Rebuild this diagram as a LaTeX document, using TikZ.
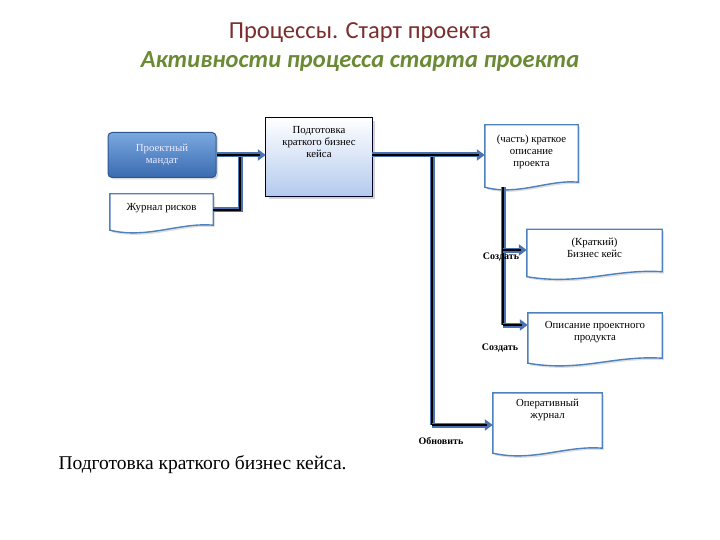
\documentclass[tikz,border=0pt]{standalone}
\usepackage{fontspec}
\setmainfont{Liberation Serif}
\newfontfamily\titlefont{Carlito}
\usetikzlibrary{calc,arrows.meta,shadows}
\definecolor{titlered}{HTML}{7A2E2E}
\definecolor{titlegreen}{HTML}{6A8A35}
\definecolor{docblue}{HTML}{4F81BD}
\definecolor{mtop}{HTML}{7AA8E0}
\definecolor{mbot}{HTML}{3A6BB0}
\definecolor{pbot}{HTML}{B3CAEE}
\definecolor{conblue}{HTML}{4A72B0}
\tikzset{
  bx/.style={inner sep=0pt, font=\fontsize{10.8}{12}\selectfont},
  docline/.style={draw=docblue, line width=1.4pt, fill=white,
     drop shadow={opacity=0.25, shadow xshift=2pt, shadow yshift=-2pt}},
  conout/.style={line width=5pt, draw=conblue},
  conin/.style={line width=2.6pt, draw=black},
  conarr/.style={line width=5pt, draw=conblue, -{Triangle[width=11pt,length=8pt]}},
  conarrin/.style={line width=2.6pt, draw=black, shorten >=6pt},
  lbl/.style={font=\fontsize{10}{11}\selectfont\bfseries, inner sep=1pt},
}
\newcommand\docpath[1]{%
  \path[docline] (#1.north west) -- (#1.north east) -- ([yshift=5pt]#1.south east)
    .. controls ($(#1.south)+(18pt,8pt)$) and ($(#1.south)+(-14pt,-9pt)$) .. (#1.south west) -- cycle;}
\newcommand\conn[1]{\draw[conout] #1; \draw[conin] #1;}
\newcommand\conna[1]{\draw[conarr] #1; \draw[conarrin] #1;}
\begin{document}
\begin{tikzpicture}[x=1pt,y=-1pt]
\useasboundingbox (0,0) rectangle (720,540);
% titles
\node[font=\titlefont\fontsize{24.5}{28}\selectfont, text=titlered] (t1) at (360,33) {Процессы. Старт проекта};
\node[font=\titlefont\fontsize{24.5}{28}\selectfont\bfseries\itshape, text=titlegreen] (t2) at (360,62) {Активности процесса старта проекта};
% boxes
\node[bx, minimum width=108pt, minimum height=45pt, rounded corners=4pt, draw=mbot!80!black, line width=1pt,
      top color=mtop, bottom color=mbot, text=white!92!blue, align=center,
      drop shadow={opacity=0.3, shadow xshift=2pt, shadow yshift=-2pt}] (mand) at (162,155) {Проектный\\мандат};
\node[bx, minimum width=106pt, minimum height=78pt] (prep) at (319,157) {};
\path[draw=black!85!blue, line width=1.3pt, top color=white, bottom color=pbot,
      drop shadow={opacity=0.35, shadow xshift=3pt, shadow yshift=-3pt}] (prep.north west) rectangle (prep.south east);
\node[bx, align=center] at (319,142) {Подготовка\\краткого бизнес\\кейса};
% document nodes
\node[bx, minimum width=103pt, minimum height=36pt] (risk) at (161.5,212) {};
\docpath{risk}
\node[bx] at (161.5,208) {Журнал рисков};
\node[bx, minimum width=93pt, minimum height=62pt] (part) at (531.5,156) {};
\docpath{part}
\node[bx, align=center] at (531.5,152) {(часть) краткое\\описание\\проекта};
\node[bx, minimum width=135pt, minimum height=47pt] (brief) at (594.5,253) {};
\docpath{brief}
\node[bx, align=center] at (594.5,248) {(Краткий)\\Бизнес кейс};
\node[bx, minimum width=134pt, minimum height=50pt] (desc) at (595,338) {};
\docpath{desc}
\node[bx, align=center] at (595,332) {Описание проектного\\продукта};
\node[bx, minimum width=109pt, minimum height=60pt] (oplog) at (547.5,423) {};
\docpath{oplog}
\node[bx, align=center] at (547.5,410) {Оперативный\\журнал};
% junction coordinates
\coordinate (j1) at (240,155);
\coordinate (j1b) at (240,210);
\coordinate (j2) at (432,155);
\coordinate (j2b) at (432,425);
\coordinate (j3) at (503,250);
\coordinate (j3b) at (503,325);
% connectors
\conn{(risk.east |- j1b) -- (j1b) -- (j1)}
\conna{(mand.east) -- (prep.west |- mand.east)}
\conn{(j2) -- (j2b)}
\conna{(prep.east |- j2) -- (part.west |- j2)}
\conna{(j2b) -- (oplog.west |- j2b)}
\conn{(part.south -| j3) -- (j3b)}
\conna{(j3) -- (brief.west |- j3)}
\conna{(j3b) -- (desc.west |- j3b)}
% labels
\node[lbl] (l1) at (501,257) {Создать};
\node[lbl] (l2) at (500,348) {Создать};
\node[lbl] (l3) at (441,441) {Обновить};
% caption
\node[font=\fontsize{19.5}{23}\selectfont, anchor=west] (cap) at (55,465) {Подготовка краткого бизнес кейса.};
\end{tikzpicture}
\end{document}
